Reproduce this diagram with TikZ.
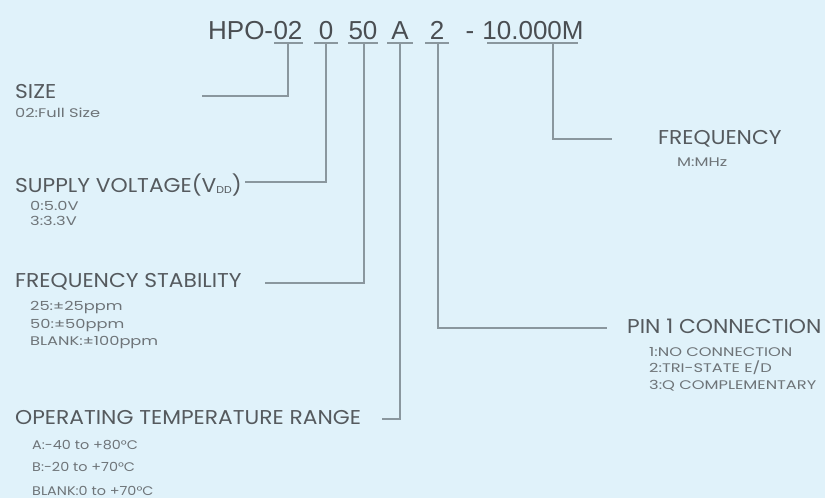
\documentclass[tikz,border=0pt]{standalone}
\usepackage{fontspec}
\setmainfont{Liberation Sans}
\newfontfamily\labfont[FakeStretch=1.09]{Poppins}
\newfontfamily\subfont[FakeStretch=1.3]{Poppins}
\newfontfamily\tempfont[FakeStretch=1.15]{Poppins}
\definecolor{bg}{HTML}{E0F2FA}
\definecolor{txt}{HTML}{555A5E}
\definecolor{ttl}{HTML}{4A4E52}
\definecolor{subtxt}{HTML}{6E7478}
\definecolor{ln}{HTML}{8A979E}
\begin{document}
\begin{tikzpicture}[x=1pt,y=-1pt,
  title/.style={font=\fontsize{26}{26}\selectfont, text=ttl, inner sep=0pt, anchor=base},
  lab/.style={font=\labfont\fontsize{20}{20}\selectfont, text=txt, inner sep=0pt, anchor=base west},
  sub/.style={font=\subfont\fontsize{12.5}{12.5}\selectfont, text=subtxt, inner sep=0pt, anchor=base west},
  tsub/.style={font=\tempfont\fontsize{12.5}{12.5}\selectfont, text=subtxt, inner sep=0pt, anchor=base west},
  conn/.style={draw=ln, line width=1.2pt}]
\fill[bg] (0,0) rectangle (825,498);
\useasboundingbox (0,0) rectangle (825,498);

% title
\node[title] (t02) at (288,39) {02};
\node[title, anchor=base east] (thpo) at (t02.base west) {HPO-};
\node[title] (t0) at (326,39) {0};
\node[title] (t50) at (363,39) {50};
\node[title] (tA) at (400,39) {A};
\node[title] (t2) at (437,39) {2};
\node[title] (tdash) at (470,39) {-};
\node[title] (tf) at (533,39) {10.000M};

% labels
\node[lab] (size) at (15,98) {SIZE};
\node[sub] (sizea) at (15,117) {02:Full Size};
\node[lab] (vcc) at (15,192) {SUPPLY VOLTAGE(V\raisebox{-1.5pt}{\fontsize{10}{10}\selectfont DD})};
\node[sub] (vcca) at (30,210) {0:5.0V};
\node[sub] (vccb) at (30,225) {3:3.3V};
\node[lab] (stab) at (15,287) {FREQUENCY STABILITY};
\node[sub] (staba) at (30,310) {25:±25ppm};
\node[sub] (stabb) at (30,328) {50:±50ppm};
\node[sub] (stabc) at (30,345) {BLANK:±100ppm};
\node[lab] (temp) at (15,424) {OPERATING TEMPERATURE RANGE};
\node[tsub] (tempa) at (32,449) {A:-40 to +80°C};
\node[tsub] (tempb) at (32,471) {B:-20 to +70°C};
\node[tsub] (tempc) at (32,495) {BLANK:0 to +70°C};
\node[lab] (freq) at (658,144) {FREQUENCY};
\node[sub] (freqa) at (677,166) {M:MHz};
\node[lab] (pin) at (627,333) {PIN 1 CONNECTION};
\node[sub] (pina) at (649,356) {1:NO CONNECTION};
\node[sub] (pinb) at (649,372) {2:TRI-STATE E/D};
\node[sub] (pinc) at (649,389) {3:Q COMPLEMENTARY};

% underline and leader coordinates
\coordinate (u02a) at (274,43); \coordinate (u02b) at (303,43); \coordinate (c02) at (288,43); \coordinate (e02) at (202,96);
\coordinate (u0a) at (314,43); \coordinate (u0b) at (338,43); \coordinate (c0) at (326,43); \coordinate (e0) at (245,182);
\coordinate (u50a) at (348,43); \coordinate (u50b) at (378,43); \coordinate (c50) at (364,43); \coordinate (e50) at (265,283);
\coordinate (uAa) at (387,43); \coordinate (uAb) at (413,43); \coordinate (cA) at (400,43); \coordinate (eA) at (382,419);
\coordinate (u2a) at (425,43); \coordinate (u2b) at (449,43); \coordinate (c2) at (438,43); \coordinate (e2) at (607,328);
\coordinate (ufa) at (487,43); \coordinate (ufb) at (578,43); \coordinate (cf) at (553,43); \coordinate (ef) at (612,139);

\draw[conn] (u02a) -- (u02b);
\draw[conn] (u0a) -- (u0b);
\draw[conn] (u50a) -- (u50b);
\draw[conn] (uAa) -- (uAb);
\draw[conn] (u2a) -- (u2b);
\draw[conn] (ufa) -- (ufb);

\draw[conn] (c02) |- (e02);
\draw[conn] (c0) |- (e0);
\draw[conn] (c50) |- (e50);
\draw[conn] (cA) |- (eA);
\draw[conn] (c2) |- (e2);
\draw[conn] (cf) |- (ef);
\end{tikzpicture}
\end{document}
